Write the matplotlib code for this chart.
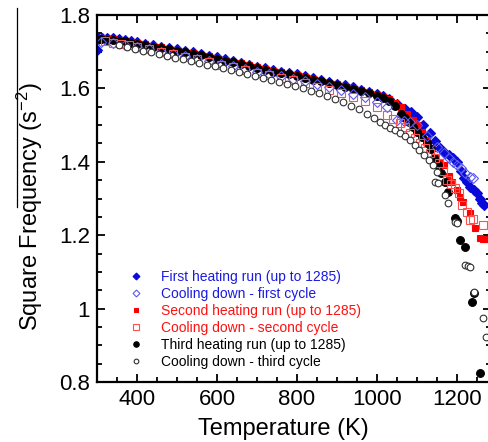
import matplotlib
matplotlib.use("Agg")
import matplotlib.pyplot as plt
from matplotlib.lines import Line2D
from matplotlib.ticker import MultipleLocator, FuncFormatter

plt.rcParams["font.family"] = ["Liberation Sans", "DejaVu Sans"]
plt.rcParams["mathtext.default"] = "regular"

# ---------------- data: temperature (K) vs square frequency (s^-2) ----------------
# first heating run
t_heat1 = [300, 302, 312, 325, 340, 355, 370, 385, 400, 420, 440, 460, 480, 500, 520, 540,
           560, 580, 600, 620, 640, 660, 680, 700, 720, 740, 760, 780, 800, 820, 840, 860,
           880, 900, 920, 940, 960, 980, 1000, 1015, 1030, 1050, 1070, 1085, 1100, 1115,
           1133, 1145, 1158, 1170, 1180, 1190, 1200, 1210, 1217, 1225, 1233, 1242, 1250,
           1258, 1263, 1268]
f_heat1 = [1.705, 1.737, 1.738, 1.737, 1.736, 1.734, 1.732, 1.729, 1.726, 1.722, 1.718,
           1.714, 1.710, 1.706, 1.702, 1.698, 1.694, 1.689, 1.685, 1.680, 1.675, 1.670,
           1.665, 1.659, 1.655, 1.650, 1.646, 1.642, 1.638, 1.633, 1.628, 1.623, 1.618,
           1.613, 1.608, 1.603, 1.597, 1.591, 1.585, 1.579, 1.572, 1.558, 1.545, 1.535,
           1.522, 1.500, 1.478, 1.458, 1.437, 1.425, 1.418, 1.410, 1.400, 1.375, 1.356,
           1.345, 1.331, 1.323, 1.315, 1.300, 1.288, 1.282]

# cooling down - first cycle
t_cool1 = [310, 340, 370, 400, 430, 460, 490, 520, 550, 580, 610, 640, 670, 700, 730, 760,
           790, 820, 850, 880, 910, 940, 970, 1000, 1025, 1050, 1067, 1083, 1100, 1125,
           1150, 1167, 1180, 1190, 1200, 1210, 1220, 1232, 1240]
f_cool1 = [1.727, 1.723, 1.719, 1.712, 1.706, 1.700, 1.694, 1.688, 1.681, 1.674, 1.667,
           1.660, 1.653, 1.646, 1.640, 1.633, 1.626, 1.619, 1.611, 1.603, 1.595, 1.586,
           1.576, 1.563, 1.548, 1.515, 1.512, 1.508, 1.500, 1.470, 1.440, 1.424, 1.410,
           1.400, 1.391, 1.383, 1.370, 1.359, 1.355]

# second heating run
t_heat2 = [300, 312, 325, 340, 355, 370, 385, 400, 420, 440, 460, 480, 500, 520, 540, 560,
           580, 600, 620, 640, 660, 680, 700, 720, 740, 760, 780, 800, 820, 840, 860, 880,
           900, 920, 940, 960, 980, 1000, 1015, 1030, 1045, 1060, 1075, 1090, 1100, 1112,
           1125, 1138, 1145, 1157, 1167, 1180, 1187, 1200, 1208, 1215, 1232, 1245, 1257,
           1265, 1272]
f_heat2 = [1.735, 1.736, 1.735, 1.734, 1.732, 1.730, 1.727, 1.724, 1.720, 1.716, 1.712,
           1.708, 1.704, 1.700, 1.696, 1.692, 1.687, 1.683, 1.678, 1.673, 1.668, 1.663,
           1.657, 1.653, 1.648, 1.644, 1.640, 1.636, 1.631, 1.626, 1.621, 1.616, 1.611,
           1.606, 1.601, 1.595, 1.589, 1.582, 1.577, 1.570, 1.560, 1.548, 1.530, 1.515,
           1.500, 1.480, 1.460, 1.437, 1.413, 1.400, 1.390, 1.360, 1.345, 1.323, 1.304,
           1.290, 1.260, 1.220, 1.192, 1.190, 1.190]

# cooling down - second cycle
t_cool2 = [320, 340, 360, 380, 400, 430, 460, 490, 520, 550, 580, 610, 640, 670, 700, 730,
           760, 790, 820, 850, 880, 910, 940, 970, 1000, 1025, 1040, 1058, 1070, 1083,
           1095, 1108, 1120, 1133, 1145, 1155, 1165, 1175, 1185, 1195, 1205, 1212, 1225,
           1232, 1240, 1265]
f_cool2 = [1.728, 1.725, 1.721, 1.717, 1.713, 1.707, 1.700, 1.693, 1.686, 1.679, 1.672,
           1.665, 1.658, 1.651, 1.643, 1.636, 1.629, 1.622, 1.614, 1.605, 1.596, 1.587,
           1.577, 1.565, 1.548, 1.527, 1.516, 1.506, 1.495, 1.478, 1.465, 1.451, 1.437,
           1.424, 1.410, 1.397, 1.375, 1.350, 1.340, 1.329, 1.315, 1.282, 1.262, 1.242,
           1.245, 1.228]

# third heating run
t_heat3 = [300, 310, 325, 340, 355, 370, 385, 400, 420, 440, 460, 480, 500, 520, 540, 560,
           580, 600, 620, 640, 660, 680, 700, 720, 740, 760, 780, 800, 820, 840, 860, 880,
           900, 920, 940, 960, 980, 1000, 1015, 1030, 1045, 1060, 1070, 1080, 1090, 1100,
           1112, 1125, 1135, 1142, 1152, 1160, 1170, 1178, 1195, 1200, 1207, 1220, 1237,
           1242, 1257]
f_heat3 = [1.733, 1.734, 1.733, 1.732, 1.730, 1.728, 1.725, 1.722, 1.718, 1.714, 1.710,
           1.706, 1.702, 1.698, 1.694, 1.690, 1.685, 1.681, 1.676, 1.671, 1.666, 1.661,
           1.655, 1.651, 1.646, 1.642, 1.638, 1.634, 1.629, 1.624, 1.619, 1.614, 1.609,
           1.604, 1.599, 1.593, 1.587, 1.580, 1.575, 1.567, 1.552, 1.530, 1.518, 1.508,
           1.495, 1.482, 1.468, 1.450, 1.435, 1.410, 1.390, 1.370, 1.345, 1.318, 1.247,
           1.240, 1.187, 1.168, 1.018, 1.043, 0.825]

# cooling down - third cycle
t_cool3 = [355, 375, 395, 415, 435, 455, 475, 495, 515, 535, 555, 575, 595, 615, 635, 655,
           675, 695, 715, 735, 755, 775, 795, 815, 835, 855, 875, 895, 915, 935, 955, 975,
           992, 1008, 1020, 1033, 1045, 1058, 1070, 1083, 1095, 1105, 1118, 1130, 1140,
           1150, 1145, 1152, 1170, 1178, 1195, 1200, 1220, 1227, 1233, 1242, 1265, 1272]
f_cool3 = [1.718, 1.713, 1.708, 1.703, 1.698, 1.693, 1.689, 1.684, 1.679, 1.675, 1.670,
           1.665, 1.660, 1.655, 1.650, 1.644, 1.640, 1.634, 1.628, 1.623, 1.618, 1.612,
           1.606, 1.600, 1.594, 1.587, 1.580, 1.572, 1.562, 1.552, 1.543, 1.530, 1.518,
           1.508, 1.500, 1.492, 1.486, 1.478, 1.470, 1.460, 1.445, 1.432, 1.418, 1.405,
           1.390, 1.372, 1.345, 1.342, 1.310, 1.288, 1.236, 1.232, 1.119, 1.116, 1.114,
           1.045, 0.974, 0.923]

series = [
    # x, y, label, marker, size, edge colour, face colour, text colour
    (t_heat1, f_heat1, "First heating run (up to 1285)", "D", 5.0, "#0a0ad8", "#0a0ad8", "#1a1ae0"),
    (t_heat2, f_heat2, "Second heating run (up to 1285)", "s", 5.0, "#ff0000", "#ff0000", "#ff1010"),
    (t_heat3, f_heat3, "Third heating run (up to 1285)", "o", 5.6, "black", "black", "black"),
    (t_cool1, f_cool1, "Cooling down - first cycle", "D", 5.0, "#5a5af0", "none", "#1a1ae0"),
    (t_cool2, f_cool2, "Cooling down - second cycle", "s", 5.2, "#ff5050", "none", "#ff1010"),
    (t_cool3, f_cool3, "Cooling down - third cycle", "o", 4.8, "#303030", "white", "black"),
]
legend_order = [0, 3, 1, 4, 2, 5]

fig = plt.figure(figsize=(4.89, 4.42), dpi=100)
ax = fig.add_axes([97 / 489, 60 / 442, 394 / 489, 367 / 442])

handles = []
for x, y, label, mk, ms, ec, fc, tc in series:
    h, = ax.plot(x, y, linestyle="none", marker=mk, markersize=ms,
                 markeredgecolor=ec, markerfacecolor=fc, markeredgewidth=0.8,
                 label=label)
    handles.append(h)

ax.set_xlim(300, 1285)
ax.set_ylim(0.8, 1.8)

ax.xaxis.set_major_locator(MultipleLocator(200))
ax.xaxis.set_minor_locator(MultipleLocator(50))
ax.yaxis.set_major_locator(MultipleLocator(0.2))
ax.yaxis.set_minor_locator(MultipleLocator(0.05))
ax.yaxis.set_major_formatter(FuncFormatter(lambda v, p: f"{v:g}"))

ax.tick_params(which="both", direction="in", top=True, right=True, width=1.3)
ax.tick_params(which="major", length=6, labelsize=16, pad=5)
ax.tick_params(which="minor", length=3.5)
for sp in ax.spines.values():
    sp.set_linewidth(1.6)

ax.set_xlabel("Temperature (K)", fontsize=17)
ax.xaxis.set_label_coords((283 - 97) / 394, -0.097)
ax.set_ylabel("Square Frequency (s$^{-2}$)", fontsize=17)
ax.yaxis.set_label_coords(-(97 - 45) / 394, 0.477)

leg = ax.legend([handles[i] for i in legend_order],
                [series[i][2] for i in legend_order],
                loc="upper left", bbox_to_anchor=(129 / 489, 1 - 270 / 442),
                bbox_transform=fig.transFigure, frameon=False, fontsize=10,
                markerscale=0.7, handlelength=1.0, handletextpad=1.3,
                labelspacing=0.22, borderpad=0, borderaxespad=0)
for txt, i in zip(leg.get_texts(), legend_order):
    txt.set_color(series[i][7])

# stray rule at the left margin
fig.add_artist(Line2D([17 / 489, 17 / 489], [1 - 8 / 442, 1 - 207 / 442],
                      color="black", linewidth=0.9))

fig.savefig("out.png", dpi=100)
